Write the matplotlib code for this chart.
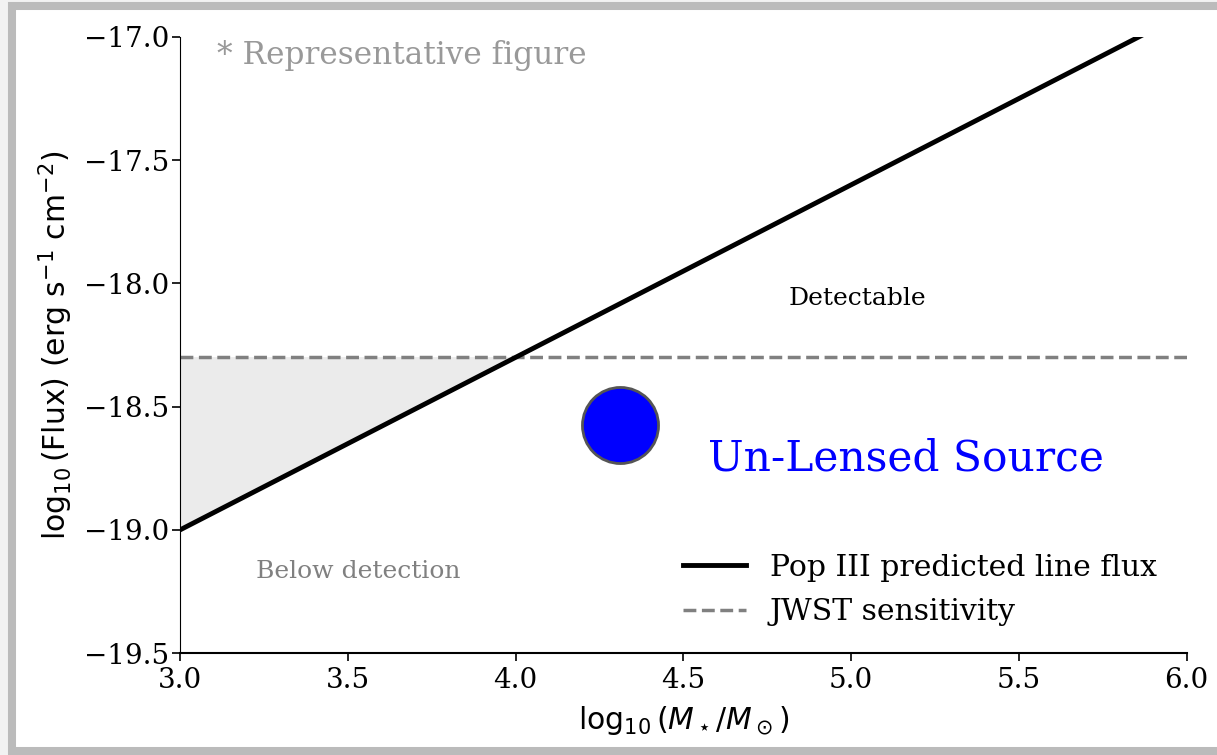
import matplotlib
matplotlib.use("Agg")
import matplotlib.pyplot as plt
import numpy as np
from matplotlib.patches import Rectangle

# data
mass_grid = [3.0, 6.0]
popiii_flux = [-19.0, -16.9]
jwst_limit = -18.3
shade_mass = [3.0, 4.0]
shade_flux = [-19.0, -18.3]
source_mass = 4.31
source_flux = -18.575

plt.rcParams['font.family'] = ['DejaVu Serif']

fig = plt.figure(figsize=(12.17, 7.55), dpi=100)
fig.patch.set_facecolor('#f2f2f2')

# screenshot frame
fig.add_artist(Rectangle((0.0099, 0.0053), 1.0, 0.9867, transform=fig.transFigure,
                         facecolor='white', edgecolor='#bbbbbb', lw=5.8, zorder=-10))

ax = fig.add_axes([0.148, 0.135, 0.827, 0.816])
ax.patch.set_alpha(0)

ax.fill_between(shade_mass, shade_flux, jwst_limit, color='#ebebeb', zorder=1)
ax.plot(mass_grid, popiii_flux, color='black', lw=3.5, label='Pop III predicted line flux', zorder=3)
ax.axhline(jwst_limit, color='gray', ls='--', lw=2.5, label='JWST sensitivity', zorder=2)
ax.scatter([source_mass], [source_flux], s=3000, color='blue', edgecolor='#555555', linewidth=2, zorder=4)

ax.text(4.573, -18.71, 'Un-Lensed Source', color='blue', fontsize=30.5, va='center', ha='left')
ax.text(5.02, -18.063, 'Detectable', fontsize=18, ha='center', va='center')
ax.text(3.53, -19.17, 'Below detection', fontsize=18, color='gray', ha='center', va='center')
ax.text(0.037, 0.995, '* Representative figure', transform=ax.transAxes, fontsize=22.5,
        color='#999999', ha='left', va='top')

ax.set_xlim(3.0, 6.0)
ax.set_ylim(-19.5, -17.0)
ax.set_xticks(np.arange(3.0, 6.01, 0.5))
ax.set_yticks(np.arange(-19.5, -16.99, 0.5))
ax.tick_params(labelsize=20, width=1.2, length=6, pad=2)
ax.tick_params(axis='x', pad=4)
ax.spines['top'].set_visible(False)
ax.spines['right'].set_visible(False)
ax.spines['bottom'].set_linewidth(1.5)

ax.set_xlabel(r'$\log_{10}(M_\star/M_\odot)$', fontsize=21.5, family='DejaVu Sans', labelpad=7)
ax.set_ylabel(r'$\log_{10}$(Flux) (erg s$^{-1}$ cm$^{-2}$)', fontsize=21.5, family='DejaVu Sans', labelpad=6)

ax.legend(loc='lower right', frameon=False, fontsize=21.5, handlelength=2.1,
          bbox_to_anchor=(0.997, 0.0), labelspacing=0.55)

fig.savefig('out.png', dpi=100, facecolor=fig.get_facecolor())
